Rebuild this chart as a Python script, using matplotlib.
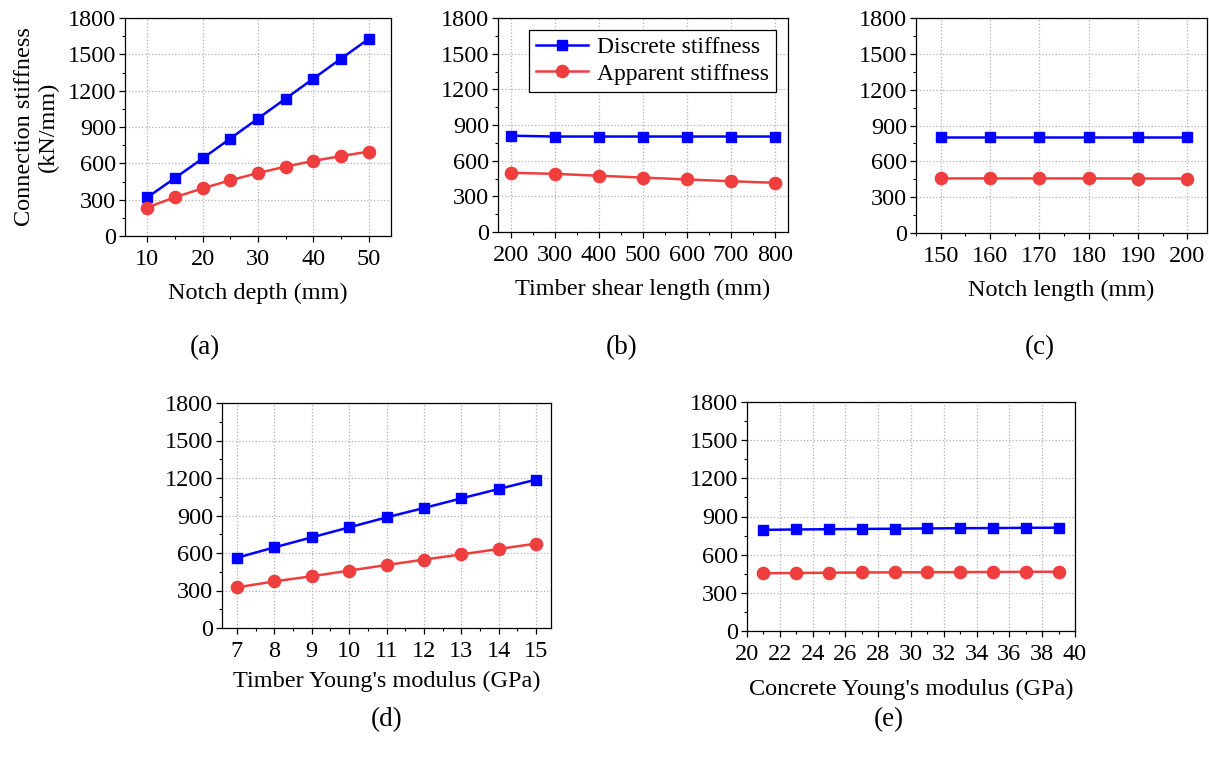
import numpy as np
import matplotlib
matplotlib.use('Agg')
from matplotlib import pyplot as plt
from matplotlib.ticker import MultipleLocator, AutoMinorLocator

plt.rcParams['font.family'] = ['Liberation Serif', 'DejaVu Serif']
plt.rcParams['mathtext.fontset'] = 'stix'

# (a) notch depth
depth = [10, 15, 20, 25, 30, 35, 40, 45, 50]
depth_discrete = [318, 478, 640, 805, 970, 1135, 1300, 1465, 1628]
depth_apparent = [235, 320, 393, 460, 520, 573, 620, 660, 697]

# (b) timber shear length
shear = [200, 300, 400, 500, 600, 700, 800]
shear_discrete = [810, 803, 803, 803, 803, 803, 803]
shear_apparent = [498, 489, 473, 458, 442, 427, 414]

# (c) notch length
nlen = [150, 160, 170, 180, 190, 200]
nlen_discrete = [803, 803, 803, 803, 803, 803]
nlen_apparent = [457, 457, 457, 457, 456, 456]

# (d) timber Young's modulus
et = [7, 8, 9, 10, 11, 12, 13, 14, 15]
et_discrete = [562, 645, 725, 805, 885, 960, 1037, 1112, 1187]
et_apparent = [325, 373, 414, 459, 504, 547, 589, 632, 675]

# (e) concrete Young's modulus
ec = [21, 23, 25, 27, 29, 31, 33, 35, 37, 39]
ec_discrete = [795, 798, 800, 802, 804, 806, 808, 809, 811, 812]
ec_apparent = [454, 456, 458, 460, 461, 462, 463, 464, 465, 466]

W, H = 1209, 766
fig = plt.figure(figsize=(W / 100, H / 100), dpi=100)

def rect(l, r, t, b):
    return [l / W, (H - b) / H, (r - l) / W, (b - t) / H]

BLUE = '#0000ff'
RED = '#ee3e3e'
FS = 17.5

def panel(pos, x, yd, ya, xlabel, xlim, xmajor, tag, tagpos, labelpad=9):
    ax = fig.add_axes(rect(*pos))
    ax.plot(x, yd, '-s', color=BLUE, lw=1.8, ms=7.5, label='Discrete stiffness')
    ax.plot(x, ya, '-o', color=RED, lw=1.8, ms=8.8, label='Apparent stiffness')
    ax.set_xlim(*xlim)
    ax.set_ylim(0, 1800)
    ax.xaxis.set_major_locator(MultipleLocator(xmajor))
    ax.yaxis.set_major_locator(MultipleLocator(300))
    ax.xaxis.set_minor_locator(AutoMinorLocator(2))
    ax.yaxis.set_minor_locator(AutoMinorLocator(2))
    ax.grid(True, which='major', ls=':', color='#b0b0b0', lw=0.9)
    ax.tick_params(which='both', direction='out', top=False, right=False, labelsize=FS)
    ax.tick_params(axis='x', pad=5)
    ax.tick_params(axis='y', pad=2)
    ax.tick_params(which='major', length=4.5, width=0.9)
    ax.tick_params(which='minor', length=2.5, width=0.8)
    for s in ax.spines.values():
        s.set_linewidth(0.9)
    ax.set_xlabel(xlabel, fontsize=FS, labelpad=labelpad)
    fig.text(tagpos[0] / W, 1 - tagpos[1] / H, tag, fontsize=19.5, ha='center', va='center')
    return ax

ax_a = panel((125, 391, 18, 236), depth, depth_discrete, depth_apparent,
             'Notch depth (mm)', (6, 54), 10, '(a)', (205, 348))
ax_a.set_ylabel('Connection stiffness\n(kN/mm)', fontsize=17.5, linespacing=1.2, labelpad=6)

ax_b = panel((498, 788, 18, 232), shear, shear_discrete, shear_apparent,
             'Timber shear length (mm)', (170, 830), 100, '(b)', (622, 348))
ax_b.legend(loc='upper right', fontsize=17, frameon=True, fancybox=False,
            edgecolor='black', framealpha=1, borderpad=0.3, labelspacing=0.2,
            handlelength=2.2, handletextpad=0.4, borderaxespad=0.5).get_frame().set_linewidth(0.9)

panel((916, 1207, 18, 233), nlen, nlen_discrete, nlen_apparent,
      'Notch length (mm)', (145, 204), 10, '(c)', (1040, 348))

panel((222, 551, 403, 628), et, et_discrete, et_apparent,
      "Timber Young's modulus (GPa)", (6.6, 15.4), 1, '(d)', (387, 720), labelpad=6)

panel((747, 1075, 402, 631), ec, ec_discrete, ec_apparent,
      "Concrete Young's modulus (GPa)", (20, 40), 2, '(e)', (889, 720), labelpad=10)

fig.savefig('out.png', dpi=100)
